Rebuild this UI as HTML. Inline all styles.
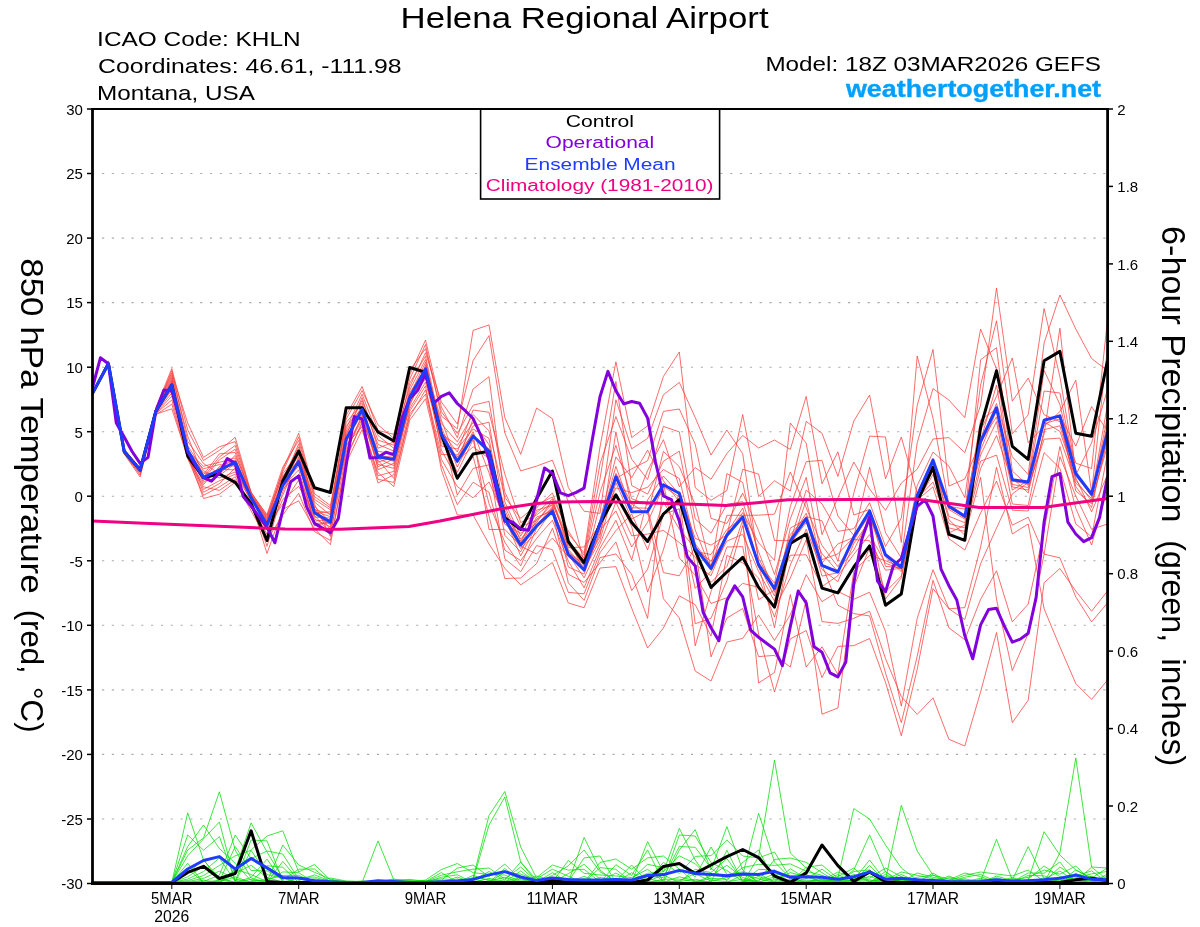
<!DOCTYPE html>
<html lang="en"><head><meta charset="utf-8"><title>Helena Regional Airport - GEFS 850 hPa Temperature</title>
<style>html,body{margin:0;padding:0;background:#fff}svg{display:block;will-change:transform}text{font-family:"Liberation Sans",sans-serif}</style>
</head><body>
<svg width="1200" height="927" viewBox="0 0 1200 927" font-family="'Liberation Sans', sans-serif">
<defs><clipPath id="pc"><rect x="92.5" y="109.0" width="1015.0" height="774.5"/></clipPath></defs>
<line x1="102.0" x2="1106.5" y1="819" y2="819" stroke="#AAAAAA" stroke-width="1.1" stroke-dasharray="2.15 7.666"/>
<line x1="102.0" x2="1106.5" y1="754.4" y2="754.4" stroke="#AAAAAA" stroke-width="1.1" stroke-dasharray="2.15 7.666"/>
<line x1="102.0" x2="1106.5" y1="689.9" y2="689.9" stroke="#AAAAAA" stroke-width="1.1" stroke-dasharray="2.15 7.666"/>
<line x1="102.0" x2="1106.5" y1="625.3" y2="625.3" stroke="#AAAAAA" stroke-width="1.1" stroke-dasharray="2.15 7.666"/>
<line x1="102.0" x2="1106.5" y1="560.8" y2="560.8" stroke="#AAAAAA" stroke-width="1.1" stroke-dasharray="2.15 7.666"/>
<line x1="102.0" x2="1106.5" y1="496.2" y2="496.2" stroke="#AAAAAA" stroke-width="1.1" stroke-dasharray="2.15 7.666"/>
<line x1="102.0" x2="1106.5" y1="431.7" y2="431.7" stroke="#AAAAAA" stroke-width="1.1" stroke-dasharray="2.15 7.666"/>
<line x1="102.0" x2="1106.5" y1="367.2" y2="367.2" stroke="#AAAAAA" stroke-width="1.1" stroke-dasharray="2.15 7.666"/>
<line x1="102.0" x2="1106.5" y1="302.6" y2="302.6" stroke="#AAAAAA" stroke-width="1.1" stroke-dasharray="2.15 7.666"/>
<line x1="102.0" x2="1106.5" y1="238.1" y2="238.1" stroke="#AAAAAA" stroke-width="1.1" stroke-dasharray="2.15 7.666"/>
<line x1="102.0" x2="1106.5" y1="173.5" y2="173.5" stroke="#AAAAAA" stroke-width="1.1" stroke-dasharray="2.15 7.666"/>
<g clip-path="url(#pc)">
<polyline points="92.5,393.4 108.4,363.5 124.2,450.9 140.1,468.6 155.9,408.7 171.8,374.6 187.7,436 203.5,477.1 219.4,456.9 235.2,445.5 251.1,493.7 267,518.8 282.8,484.4 298.7,466 314.5,514.1 330.4,524.6 346.2,447 362.1,417.1 378,466.8 393.8,458.7 409.7,400.4 425.5,373.4 441.4,426.9 457.3,467.1 473.1,435.4 489,449.1 504.8,535.3 520.7,551.9 536.6,519 552.4,508.9 568.3,549.4 584.1,567.5 600,520.3 615.9,456.9 631.7,477.6 647.6,450.1 663.4,480.8 679.3,501.8 695.2,551.5 711,554.5 726.9,529.4 742.7,517.6 758.6,565.4 774.5,596 790.3,538.7 806.2,513.2 822,563.2 837.9,543.9 853.8,537.5 869.6,513.6 885.5,566.4 901.3,567.8 917.2,496.1 933,464.2 948.9,519.6 964.8,535.2 980.6,477.3 996.5,599.3 1012.3,670.5 1028.2,633.7 1044.1,554.2 1059.9,456.6 1075.8,496 1091.6,529.3 1107.5,524" fill="none" stroke="#FA3C3C" stroke-width="0.75" stroke-linejoin="round" />
<polyline points="92.5,393.4 108.4,364.3 124.2,452.3 140.1,469.6 155.9,411.1 171.8,382.2 187.7,450.7 203.5,466.2 219.4,462.3 235.2,457.9 251.1,496.3 267,523 282.8,488.7 298.7,474.6 314.5,519 330.4,526.9 346.2,433.6 362.1,405.5 378,469.6 393.8,463.3 409.7,406.2 425.5,364.9 441.4,439.6 457.3,459.1 473.1,431.7 489,472.7 504.8,524.4 520.7,533.2 536.6,523.7 552.4,510.6 568.3,550.9 584.1,568.7 600,503.9 615.9,494.5 631.7,526.5 647.6,592.1 663.4,549.9 679.3,491.7 695.2,538.3 711,545.2 726.9,534.8 742.7,469.3 758.6,474.1 774.5,540.5 790.3,540.7 806.2,490.1 822,503.9 837.9,531.4 853.8,528.7 869.6,502.7 885.5,546.5 901.3,518 917.2,405.5 933,349.4 948.9,486.1 964.8,479 980.6,441.7 996.5,403.5 1012.3,456.7 1028.2,474.6 1044.1,343 1059.9,295 1075.8,329 1091.6,358.5 1107.5,370.7" fill="none" stroke="#FA3C3C" stroke-width="0.75" stroke-linejoin="round" />
<polyline points="92.5,393.4 108.4,362.8 124.2,450.1 140.1,468.2 155.9,408.2 171.8,372.7 187.7,423 203.5,457.4 219.4,446.8 235.2,441.6 251.1,493.1 267,514.4 282.8,467 298.7,440.4 314.5,499.4 330.4,509.8 346.2,419.1 362.1,390.5 378,424.9 393.8,438.3 409.7,379.3 425.5,344.5 441.4,416.1 457.3,428.8 473.1,330.4 489,324.9 504.8,417.5 520.7,454.3 536.6,408 552.4,418.7 568.3,487.5 584.1,511.2 600,513.4 615.9,399.8 631.7,448.8 647.6,438.4 663.4,394.8 679.3,382.4 695.2,417.5 711,455 726.9,430 742.7,453.7 758.6,562.4 774.5,583.3 790.3,506.5 806.2,461.7 822,460.3 837.9,516 853.8,535.4 869.6,511.1 885.5,555.3 901.3,567.2 917.2,485.6 933,452.1 948.9,466.1 964.8,497.6 980.6,385.1 996.5,320.8 1012.3,433.8 1028.2,414.9 1044.1,308.5 1059.9,376.8 1075.8,471.5 1091.6,494.7 1107.5,404.7" fill="none" stroke="#FA3C3C" stroke-width="0.75" stroke-linejoin="round" />
<polyline points="92.5,393.4 108.4,363.9 124.2,451.7 140.1,469.7 155.9,410.7 171.8,384.7 187.7,448.7 203.5,478.1 219.4,471.8 235.2,462.6 251.1,495.8 267,521.5 282.8,485.2 298.7,449.7 314.5,511.3 330.4,516.7 346.2,428.6 362.1,394.1 378,435.5 393.8,448.3 409.7,383.3 425.5,356.2 441.4,429.7 457.3,495.2 473.1,468.4 489,464.8 504.8,558.8 520.7,571.7 536.6,545.6 552.4,549.6 568.3,592.4 584.1,593.8 600,552.8 615.9,530.7 631.7,514 647.6,549.9 663.4,501.7 679.3,529.1 695.2,548.6 711,561.3 726.9,535.6 742.7,512.5 758.6,542.8 774.5,560.4 790.3,423 806.2,443.1 822,534.6 837.9,497.7 853.8,462.1 869.6,489 885.5,510.3 901.3,483.1 917.2,469.2 933,439 948.9,437.6 964.8,452.6 980.6,405.1 996.5,288 1012.3,401.2 1028.2,378 1044.1,414.7 1059.9,421.7 1075.8,473.6 1091.6,494.3 1107.5,424" fill="none" stroke="#FA3C3C" stroke-width="0.75" stroke-linejoin="round" />
<polyline points="92.5,393.4 108.4,363.7 124.2,451.6 140.1,471.2 155.9,411.7 171.8,387.6 187.7,454.4 203.5,489.4 219.4,480.7 235.2,474.3 251.1,500 267,546.3 282.8,491.6 298.7,458.6 314.5,515.5 330.4,532.8 346.2,455.8 362.1,424.1 378,479.3 393.8,482.4 409.7,414 425.5,394.2 441.4,459.3 457.3,486.6 473.1,497.8 489,481.9 504.8,518 520.7,555.9 536.6,525.6 552.4,506.7 568.3,554.1 584.1,577.8 600,544.1 615.9,502.2 631.7,535.8 647.6,534.1 663.4,530.4 679.3,542.5 695.2,556.8 711,582.4 726.9,566.5 742.7,520.3 758.6,683 774.5,672.5 790.3,594.6 806.2,667 822,646.8 837.9,674.5 853.8,571.5 869.6,555.4 885.5,560.7 901.3,567.5 917.2,496.8 933,462.7 948.9,516.3 964.8,522.7 980.6,442.5 996.5,416.8 1012.3,490.1 1028.2,480.6 1044.1,370.4 1059.9,404.4 1075.8,474 1091.6,496.7 1107.5,416" fill="none" stroke="#FA3C3C" stroke-width="0.75" stroke-linejoin="round" />
<polyline points="92.5,393.4 108.4,364.1 124.2,452.1 140.1,469.9 155.9,412.4 171.8,380.9 187.7,451.4 203.5,468.7 219.4,464.6 235.2,466.2 251.1,497.3 267,524.8 282.8,495.2 298.7,456.8 314.5,506.4 330.4,521.9 346.2,437.3 362.1,412 378,455.9 393.8,461.4 409.7,395.1 425.5,362.4 441.4,435.3 457.3,457.2 473.1,426 489,422.2 504.8,516.1 520.7,543 536.6,510.2 552.4,505.3 568.3,567 584.1,574.1 600,530.4 615.9,510.8 631.7,547 647.6,522.2 663.4,486.7 679.3,496.9 695.2,623.7 711,618.3 726.9,580.6 742.7,525.7 758.6,599.6 774.5,590 790.3,555.2 806.2,554.8 822,586.7 837.9,575.7 853.8,554.3 869.6,534.6 885.5,563.3 901.3,568.9 917.2,499.2 933,471.1 948.9,533 964.8,525.1 980.6,444.1 996.5,408 1012.3,486.9 1028.2,490 1044.1,434 1059.9,328.2 1075.8,476 1091.6,495.5 1107.5,433.5" fill="none" stroke="#FA3C3C" stroke-width="0.75" stroke-linejoin="round" />
<polyline points="92.5,393.4 108.4,364.2 124.2,453.6 140.1,473.7 155.9,411.5 171.8,378 187.7,450.4 203.5,476.1 219.4,469.4 235.2,469.8 251.1,497.7 267,524.1 282.8,477.7 298.7,446.8 314.5,504.3 330.4,536.4 346.2,442.6 362.1,410.8 378,458.6 393.8,465.6 409.7,399.1 425.5,378.9 441.4,446.1 457.3,448.9 473.1,429 489,438.4 504.8,520.8 520.7,548.6 536.6,532.5 552.4,509.8 568.3,545.8 584.1,560.3 600,492.4 615.9,445.3 631.7,498.7 647.6,504.6 663.4,492.4 679.3,517.8 695.2,588.4 711,571.3 726.9,541.1 742.7,534.3 758.6,571.5 774.5,601.2 790.3,528.1 806.2,519.4 822,576.1 837.9,572.7 853.8,541.2 869.6,511.5 885.5,556 901.3,567.3 917.2,495.7 933,460.1 948.9,507.2 964.8,518 980.6,359.8 996.5,347.7 1012.3,471.1 1028.2,485.5 1044.1,423.8 1059.9,418.8 1075.8,486.7 1091.6,507.5 1107.5,436.1" fill="none" stroke="#FA3C3C" stroke-width="0.75" stroke-linejoin="round" />
<polyline points="92.5,393.4 108.4,362.2 124.2,451.3 140.1,468.8 155.9,409.6 171.8,384.1 187.7,453 203.5,479.2 219.4,459.8 235.2,449.2 251.1,495.3 267,516.7 282.8,475.8 298.7,461.2 314.5,526 330.4,521.3 346.2,439.7 362.1,409.9 378,460.2 393.8,478.4 409.7,417 425.5,389.9 441.4,454.5 457.3,454.8 473.1,433.8 489,529.6 504.8,529.3 520.7,546.2 536.6,554 552.4,538.1 568.3,556.7 584.1,569.6 600,540.2 615.9,482.6 631.7,519.1 647.6,510.5 663.4,598.7 679.3,618 695.2,671 711,681 726.9,642 742.7,638.4 758.6,615.1 774.5,640.4 790.3,614.8 806.2,574.7 822,601.7 837.9,591.4 853.8,599.3 869.6,592.2 885.5,631.4 901.3,706.1 917.2,618.3 933,569.7 948.9,608.8 964.8,607.6 980.6,547.1 996.5,467.2 1012.3,534 1028.2,524 1044.1,608.8 1059.9,646.8 1075.8,683.6 1091.6,699.4 1107.5,680" fill="none" stroke="#FA3C3C" stroke-width="0.75" stroke-linejoin="round" />
<polyline points="92.5,393.4 108.4,363.2 124.2,449.8 140.1,469.3 155.9,409.2 171.8,376.4 187.7,445.6 203.5,470.9 219.4,478 235.2,472 251.1,497.5 267,523.6 282.8,486.6 298.7,469.8 314.5,523.4 330.4,523 346.2,452.6 362.1,415.2 378,464.3 393.8,468.3 409.7,402.1 425.5,371.4 441.4,450.1 457.3,478.9 473.1,456.5 489,516.2 504.8,578.5 520.7,578 536.6,563.5 552.4,528.3 568.3,574.3 584.1,582.4 600,562.7 615.9,541.9 631.7,590.6 647.6,569.2 663.4,514.3 679.3,508.8 695.2,645.8 711,591.6 726.9,547 742.7,546.6 758.6,634 774.5,692 790.3,638.9 806.2,630.5 822,677.6 837.9,646.4 853.8,645.6 869.6,638.5 885.5,682.4 901.3,735.8 917.2,669.3 933,588.6 948.9,608.8 964.8,619.5 980.6,563.7 996.5,528.1 1012.3,493.9 1028.2,482.4 1044.1,420.9 1059.9,415.1 1075.8,463.2 1091.6,468.5 1107.5,320" fill="none" stroke="#FA3C3C" stroke-width="0.75" stroke-linejoin="round" />
<polyline points="92.5,393.4 108.4,364.2 124.2,452.9 140.1,472.3 155.9,413.2 171.8,396.2 187.7,455.1 203.5,498.5 219.4,494.2 235.2,482.3 251.1,510.8 267,539.9 282.8,515 298.7,493.3 314.5,531.7 330.4,540.4 346.2,462.9 362.1,429.6 378,483 393.8,474.7 409.7,411.2 425.5,385.9 441.4,470 457.3,515 473.1,515 489,544 504.8,568.3 520.7,584.9 536.6,574 552.4,562.5 568.3,603 584.1,607.7 600,568 615.9,566.6 631.7,608.2 647.6,648 663.4,628 679.3,595.8 695.2,604.6 711,636.1 726.9,555.4 742.7,562.9 758.6,578 774.5,617 790.3,565 806.2,529.2 822,569.4 837.9,581.7 853.8,543.5 869.6,521 885.5,599 901.3,577.9 917.2,502 933,474.3 948.9,528 964.8,531.3 980.6,468.5 996.5,435.5 1012.3,481.1 1028.2,484.1 1044.1,420.3 1059.9,417 1075.8,491 1091.6,503.8 1107.5,440.1" fill="none" stroke="#FA3C3C" stroke-width="0.75" stroke-linejoin="round" />
<polyline points="92.5,393.4 108.4,363.8 124.2,450.4 140.1,468.4 155.9,410.4 171.8,383.2 187.7,451.9 203.5,474.7 219.4,453.8 235.2,452.5 251.1,497 267,524.5 282.8,479.4 298.7,460.1 314.5,512.2 330.4,520.4 346.2,449.6 362.1,419.3 378,462.1 393.8,457.4 409.7,398.1 425.5,369.8 441.4,423.7 457.3,441.8 473.1,414.5 489,430.9 504.8,497.2 520.7,518.4 536.6,504.9 552.4,497 568.3,531 584.1,555.5 600,463.8 615.9,416.6 631.7,459.2 647.6,479.5 663.4,426.4 679.3,431.9 695.2,518.9 711,533.2 726.9,504.3 742.7,501.6 758.6,551.9 774.5,592.3 790.3,541.7 806.2,518.2 822,566.2 837.9,570 853.8,550.1 869.6,517.9 885.5,557.1 901.3,571.6 917.2,495.8 933,466.1 948.9,508.1 964.8,516.6 980.6,455 996.5,421.7 1012.3,504 1028.2,505.5 1044.1,429.7 1059.9,425.8 1075.8,480.1 1091.6,500.8 1107.5,445.9" fill="none" stroke="#FA3C3C" stroke-width="0.75" stroke-linejoin="round" />
<polyline points="92.5,393.4 108.4,363.7 124.2,451.1 140.1,469.8 155.9,412 171.8,390 187.7,455.9 203.5,492.2 219.4,483.7 235.2,467.9 251.1,502.1 267,553.5 282.8,509.3 298.7,500.8 314.5,528.8 330.4,544.7 346.2,459.2 362.1,421.6 378,475.8 393.8,471.4 409.7,404 425.5,376 441.4,442.6 457.3,460.5 473.1,446.8 489,458.4 504.8,506.3 520.7,541.1 536.6,512.7 552.4,498.9 568.3,547.7 584.1,547 600,524.4 615.9,466.3 631.7,510.6 647.6,470.6 663.4,439.7 679.3,486.8 695.2,467.5 711,479.3 726.9,453.5 742.7,435.5 758.6,448 774.5,440 790.3,449.4 806.2,396.4 822,483.8 837.9,451.8 853.8,515 869.6,509.4 885.5,553.3 901.3,565.4 917.2,495.6 933,461.6 948.9,509.5 964.8,519.1 980.6,450.2 996.5,410.4 1012.3,479.9 1028.2,482.1 1044.1,391 1059.9,393 1075.8,474.8 1091.6,442.9 1107.5,389.7" fill="none" stroke="#FA3C3C" stroke-width="0.75" stroke-linejoin="round" />
<polyline points="92.5,393.4 108.4,363.9 124.2,450.7 140.1,469.5 155.9,411.3 171.8,385.9 187.7,451 203.5,472.9 219.4,475.6 235.2,463.5 251.1,496.6 267,520.7 282.8,473.8 298.7,452.3 314.5,502 330.4,515.2 346.2,431.3 362.1,400.5 378,440.2 393.8,445.2 409.7,370.3 425.5,348.7 441.4,411.7 457.3,433.4 473.1,405.2 489,401.4 504.8,492 520.7,526.4 536.6,520.8 552.4,503.9 568.3,541.5 584.1,558 600,478.9 615.9,381.5 631.7,485.5 647.6,494.1 663.4,461.3 679.3,451.1 695.2,530 711,569.1 726.9,515.3 742.7,515.3 758.6,515.2 774.5,514.1 790.3,472 806.2,507.8 822,545.5 837.9,566.7 853.8,539.5 869.6,540.7 885.5,570.2 901.3,568.3 917.2,498.5 933,482.1 948.9,523.5 964.8,528 980.6,461.1 996.5,455.1 1012.3,510.2 1028.2,511 1044.1,452.6 1059.9,468.3 1075.8,524 1091.6,536.7 1107.5,453.5" fill="none" stroke="#FA3C3C" stroke-width="0.75" stroke-linejoin="round" />
<polyline points="92.5,393.4 108.4,360.9 124.2,449 140.1,468 155.9,407.6 171.8,368.5 187.7,429.9 203.5,460.5 219.4,450.4 235.2,437.3 251.1,492.5 267,515.6 282.8,471.7 298.7,436.9 314.5,496.6 330.4,507.8 346.2,425.7 362.1,408.8 378,454 393.8,460 409.7,408.6 425.5,382.2 441.4,437.1 457.3,472.4 473.1,439.7 489,503.7 504.8,542.2 520.7,565.9 536.6,528.1 552.4,507.9 568.3,553.3 584.1,564.3 600,525.9 615.9,487.9 631.7,492.6 647.6,487.3 663.4,469.5 679.3,478.5 695.2,543.8 711,565.6 726.9,533 742.7,508 758.6,564.4 774.5,627.7 790.3,543.8 806.2,522.6 822,553.7 837.9,571.6 853.8,538.2 869.6,515.5 885.5,555 901.3,569.6 917.2,495.9 933,460.8 948.9,506.6 964.8,516.4 980.6,440.7 996.5,385.1 1012.3,478.1 1028.2,493 1044.1,422 1059.9,431.3 1075.8,477.8 1091.6,511.8 1107.5,474.8" fill="none" stroke="#FA3C3C" stroke-width="0.75" stroke-linejoin="round" />
<polyline points="92.5,393.4 108.4,361.6 124.2,449.4 140.1,469 155.9,410 171.8,370.6 187.7,441.3 203.5,463.5 219.4,473.5 235.2,461.5 251.1,498.5 267,526.6 282.8,504.1 298.7,480.1 314.5,521.1 330.4,519.3 346.2,444.6 362.1,426.8 378,472.6 393.8,486.6 409.7,420.2 425.5,398.8 441.4,464.5 457.3,504.7 473.1,482.2 489,492.2 504.8,550.1 520.7,560.6 536.6,538.4 552.4,520.2 568.3,561 584.1,587.8 600,548.3 615.9,520.3 631.7,559.9 647.6,499.9 663.4,476 679.3,494.1 695.2,564.6 711,575.7 726.9,537.4 742.7,516.7 758.6,567.4 774.5,588.9 790.3,548.2 806.2,500.2 822,565 837.9,605.2 853.8,613.6 869.6,615.9 885.5,672.9 901.3,722.7 917.2,656.3 933,580.3 948.9,627.8 964.8,639.7 980.6,599.3 996.5,570.8 1012.3,621.9 1028.2,604.1 1044.1,530.5 1059.9,446.5 1075.8,508.4 1091.6,545 1107.5,488.8" fill="none" stroke="#FA3C3C" stroke-width="0.75" stroke-linejoin="round" />
<polyline points="92.5,393.4 108.4,364.5 124.2,454 140.1,477 155.9,414.2 171.8,408.8 187.7,457.7 203.5,486.8 219.4,490.4 235.2,479.5 251.1,504.6 267,534.4 282.8,499.4 298.7,486.4 314.5,513.2 330.4,511.7 346.2,435.6 362.1,397.5 378,448.2 393.8,441.9 409.7,386.9 425.5,352.7 441.4,402 457.3,424 473.1,360.5 489,335.6 504.8,432.9 520.7,470.9 536.6,466.1 552.4,460.2 568.3,501.7 584.1,562.4 600,527.9 615.9,473.3 631.7,503.8 647.6,514.4 663.4,451.4 679.3,466.6 695.2,504.8 711,567.9 726.9,473.6 742.7,482.4 758.6,558.4 774.5,587.6 790.3,534.6 806.2,516.6 822,520.8 837.9,561.4 853.8,493.2 869.6,436.1 885.5,437 901.3,542.5 917.2,356 933,418.2 948.9,504.8 964.8,515 980.6,420.2 996.5,408.8 1012.3,484.4 1028.2,487.5 1044.1,439.2 1059.9,438.1 1075.8,483.1 1091.6,498.5 1107.5,432.3" fill="none" stroke="#FA3C3C" stroke-width="0.75" stroke-linejoin="round" />
<polyline points="92.5,393.4 108.4,364 124.2,452.6 140.1,470.4 155.9,413.6 171.8,400 187.7,456.8 203.5,484.5 219.4,466.6 235.2,460 251.1,494.3 267,519.8 282.8,469.4 298.7,433.2 314.5,493.7 330.4,505.6 346.2,422.5 362.1,403.2 378,444.4 393.8,451.1 409.7,392.9 425.5,368.4 441.4,420.1 457.3,463.1 473.1,418.7 489,453.6 504.8,510.1 520.7,544.3 536.6,517.1 552.4,511.1 568.3,582.8 584.1,600.4 600,557.6 615.9,553.9 631.7,574.5 647.6,618.4 663.4,483.7 679.3,558 695.2,575.1 711,603.5 726.9,597.7 742.7,583.4 758.6,587.3 774.5,608.2 790.3,578.1 806.2,539.8 822,621.6 837.9,623.4 853.8,618.3 869.6,611.2 885.5,658.6 901.3,696.6 917.2,714.4 933,697.8 948.9,739.3 964.8,746 980.6,691.9 996.5,632.5 1012.3,722.7 1028.2,700.2 1044.1,582.7 1059.9,568.5 1075.8,591 1091.6,611.2 1107.5,591" fill="none" stroke="#FA3C3C" stroke-width="0.75" stroke-linejoin="round" />
<polyline points="92.5,393.4 108.4,364 124.2,451.9 140.1,469.2 155.9,410.9 171.8,379.6 187.7,453.7 203.5,480.6 219.4,468.2 235.2,464.7 251.1,494.8 267,522.3 282.8,480.9 298.7,463.1 314.5,517.1 330.4,518.1 346.2,440.9 362.1,413.5 378,457.5 393.8,455.7 409.7,396.8 425.5,366.9 441.4,431.9 457.3,452 473.1,410 489,412.3 504.8,474 520.7,522.5 536.6,515 552.4,502.3 568.3,543.7 584.1,566 600,536.6 615.9,431.8 631.7,507.8 647.6,508.2 663.4,572.6 679.3,575.8 695.2,546.9 711,656.9 726.9,618.1 742.7,608.5 758.6,656.6 774.5,655.4 790.3,667 806.2,599.8 822,714.2 837.9,708 853.8,587 869.6,547.6 885.5,591.8 901.3,576 917.2,500 933,486.8 948.9,538.7 964.8,550 980.6,513 996.5,481 1012.3,525.2 1028.2,517.2 1044.1,554.2 1059.9,557.8 1075.8,596.9 1091.6,621.9 1107.5,602.9" fill="none" stroke="#FA3C3C" stroke-width="0.75" stroke-linejoin="round" />
<polyline points="92.5,393.4 108.4,363.8 124.2,451.4 140.1,470 155.9,412.7 171.8,392.9 187.7,452.4 203.5,482.4 219.4,470.6 235.2,455.4 251.1,491.8 267,517.8 282.8,483.5 298.7,454.7 314.5,508.3 330.4,529.6 346.2,438.5 362.1,407.4 378,451.4 393.8,453.6 409.7,390.1 425.5,359.5 441.4,433.6 457.3,445.5 473.1,422.5 489,444.6 504.8,513.4 520.7,538.9 536.6,522.4 552.4,500.7 568.3,539.1 584.1,571.4 600,533.3 615.9,478.6 631.7,468.8 647.6,460.8 663.4,411.4 679.3,409 695.2,444.1 711,518.3 726.9,523.5 742.7,493.1 758.6,530.6 774.5,574.5 790.3,518.8 806.2,477.3 822,559.6 837.9,553.9 853.8,537.1 869.6,467.2 885.5,532.6 901.3,557.9 917.2,442.8 933,388.6 948.9,400 964.8,417.6 980.6,329 996.5,369 1012.3,480.3 1028.2,483 1044.1,419.2 1059.9,416.1 1075.8,446.1 1091.6,406.6 1107.5,431.4" fill="none" stroke="#FA3C3C" stroke-width="0.75" stroke-linejoin="round" />
<polyline points="92.5,393.4 108.4,364.4 124.2,453.2 140.1,475.2 155.9,414.7 171.8,404.2 187.7,458.6 203.5,495.3 219.4,486.9 235.2,476.8 251.1,507.5 267,529.9 282.8,482.3 298.7,443.7 314.5,509.9 330.4,513.5 346.2,415.4 362.1,386.5 378,430.4 393.8,434.4 409.7,375 425.5,340 441.4,407 457.3,437.7 473.1,389 489,376.7 504.8,501.9 520.7,536.2 536.6,507.6 552.4,493 568.3,533.8 584.1,552.8 600,447 615.9,361.8 631.7,437.6 647.6,425.8 663.4,376.5 679.3,352 695.2,487.7 711,500.3 726.9,490.5 742.7,414.5 758.6,496.5 774.5,480.7 790.3,491 806.2,421.4 822,433.3 837.9,476.4 853.8,421 869.6,395 885.5,478.8 901.3,437 917.2,493.7 933,458.5 948.9,506.3 964.8,509.2 980.6,430.8 996.5,396.4 1012.3,358 1028.2,442.7 1044.1,426.3 1059.9,411.6 1075.8,380.2 1091.6,492.4 1107.5,347.6" fill="none" stroke="#FA3C3C" stroke-width="0.75" stroke-linejoin="round" />
<polyline points="92.5,882.5 108.4,882.5 124.2,882.5 140.1,882.5 155.9,882.5 171.8,882.5 187.7,882.4 203.5,881.4 219.4,875.2 235.2,835 251.1,858.6 267,851 282.8,854.1 298.7,879.2 314.5,879.9 330.4,882.5 346.2,882.5 362.1,882.5 378,882.4 393.8,881.8 409.7,880.8 425.5,882.5 441.4,882.5 457.3,882.5 473.1,875.4 489,880.8 504.8,877.3 520.7,882.5 536.6,882.5 552.4,882.5 568.3,879.8 584.1,880.2 600,882.5 615.9,882.4 631.7,882.2 647.6,882.5 663.4,882.4 679.3,882.1 695.2,869.4 711,872.5 726.9,858.6 742.7,880.6 758.6,880.2 774.5,873.9 790.3,875.6 806.2,874.4 822,882.5 837.9,882.5 853.8,882.2 869.6,873.4 885.5,882.2 901.3,880.5 917.2,878.7 933,882.5 948.9,882.5 964.8,881.8 980.6,879.5 996.5,882.5 1012.3,882 1028.2,882.5 1044.1,882.5 1059.9,882.5 1075.8,882.5 1091.6,882.5 1107.5,880.7" fill="none" stroke="#00DC00" stroke-width="0.75" stroke-linejoin="round" />
<polyline points="92.5,882.5 108.4,882.5 124.2,882.5 140.1,882.5 155.9,882.5 171.8,882.5 187.7,882.5 203.5,880.2 219.4,882.5 235.2,882.5 251.1,882.5 267,882.2 282.8,882.4 298.7,877.6 314.5,877 330.4,882 346.2,881.9 362.1,882.4 378,882.1 393.8,879 409.7,881.9 425.5,881.1 441.4,878.8 457.3,880.2 473.1,879.2 489,882.5 504.8,882.4 520.7,882.3 536.6,878.9 552.4,869.2 568.3,876.3 584.1,882.4 600,867.6 615.9,869.3 631.7,882.5 647.6,882.2 663.4,882.5 679.3,882.4 695.2,882.5 711,882.2 726.9,882.2 742.7,882 758.6,869.3 774.5,870.2 790.3,882.5 806.2,882.5 822,882.5 837.9,876.6 853.8,868 869.6,881.6 885.5,878.4 901.3,881.2 917.2,882.1 933,881.8 948.9,882.2 964.8,882.5 980.6,882.5 996.5,881.9 1012.3,877.6 1028.2,882.5 1044.1,877.8 1059.9,878.6 1075.8,880.5 1091.6,882.2 1107.5,878.4" fill="none" stroke="#00DC00" stroke-width="0.75" stroke-linejoin="round" />
<polyline points="92.5,882.5 108.4,882.5 124.2,882.5 140.1,882.5 155.9,882.5 171.8,882.5 187.7,876.8 203.5,866.3 219.4,878.1 235.2,882.4 251.1,882.2 267,882.4 282.8,882.5 298.7,882.2 314.5,882.4 330.4,878 346.2,881 362.1,881.7 378,881.4 393.8,882.1 409.7,881.7 425.5,882.5 441.4,882.5 457.3,882.1 473.1,880.4 489,871.5 504.8,880.3 520.7,862 536.6,882.2 552.4,872.7 568.3,882.3 584.1,876.4 600,882.4 615.9,882.3 631.7,879.2 647.6,864.3 663.4,867.6 679.3,863.3 695.2,876.9 711,847 726.9,874.5 742.7,871.8 758.6,882.2 774.5,876.7 790.3,882.4 806.2,882.3 822,877.6 837.9,882.4 853.8,874.4 869.6,882.1 885.5,874.4 901.3,882.1 917.2,873 933,877.2 948.9,880.7 964.8,875.3 980.6,872 996.5,874 1012.3,876 1028.2,870 1044.1,881.3 1059.9,867 1075.8,877.8 1091.6,873.9 1107.5,871.4" fill="none" stroke="#00DC00" stroke-width="0.75" stroke-linejoin="round" />
<polyline points="92.5,882.5 108.4,882.5 124.2,882.5 140.1,882.5 155.9,882.5 171.8,882.5 187.7,855.8 203.5,838.9 219.4,822 235.2,882.1 251.1,879.4 267,882.5 282.8,882.5 298.7,881.2 314.5,882.5 330.4,882.5 346.2,882.5 362.1,882.1 378,881.9 393.8,881.1 409.7,882.4 425.5,882.4 441.4,880.9 457.3,881.8 473.1,882.4 489,878.4 504.8,881.2 520.7,882.5 536.6,880.7 552.4,879.2 568.3,882.5 584.1,882.5 600,862.4 615.9,859 631.7,869.2 647.6,857.9 663.4,856 679.3,869.1 695.2,882.4 711,875.8 726.9,865.3 742.7,877.5 758.6,882.5 774.5,882.5 790.3,881.5 806.2,882.1 822,879.2 837.9,882.1 853.8,871.5 869.6,869.9 885.5,882.4 901.3,882.5 917.2,881.4 933,882.5 948.9,876 964.8,882.4 980.6,881.2 996.5,879.1 1012.3,882.5 1028.2,875.5 1044.1,875.8 1059.9,882.3 1075.8,882.4 1091.6,882.5 1107.5,882.5" fill="none" stroke="#00DC00" stroke-width="0.75" stroke-linejoin="round" />
<polyline points="92.5,882.5 108.4,882.5 124.2,882.5 140.1,882.5 155.9,882.5 171.8,882.5 187.7,880.6 203.5,875.6 219.4,865.4 235.2,855.8 251.1,850.3 267,874.6 282.8,878 298.7,882.5 314.5,881.5 330.4,881.6 346.2,882.3 362.1,882.3 378,882.5 393.8,882.4 409.7,882.5 425.5,881.8 441.4,875.2 457.3,871.8 473.1,869.2 489,868 504.8,879 520.7,867 536.6,881.7 552.4,882.5 568.3,882.1 584.1,881.9 600,882.5 615.9,864.7 631.7,875.4 647.6,850 663.4,882.5 679.3,880.6 695.2,873.7 711,881.1 726.9,877.4 742.7,875 758.6,878.6 774.5,882.4 790.3,880.7 806.2,881.7 822,882.2 837.9,882.5 853.8,882.4 869.6,882.4 885.5,871.5 901.3,882.4 917.2,877.2 933,875.3 948.9,878.9 964.8,881.4 980.6,878.3 996.5,882.5 1012.3,878.9 1028.2,881.6 1044.1,881.8 1059.9,881 1075.8,882.5 1091.6,882.5 1107.5,882.5" fill="none" stroke="#00DC00" stroke-width="0.75" stroke-linejoin="round" />
<polyline points="92.5,882.5 108.4,882.5 124.2,882.5 140.1,882.5 155.9,882.5 171.8,882.5 187.7,881.6 203.5,878.4 219.4,871.1 235.2,879.1 251.1,881.7 267,879.5 282.8,875.4 298.7,875.4 314.5,882.5 330.4,882.5 346.2,882.5 362.1,881.9 378,882.5 393.8,880.5 409.7,879.5 425.5,881.5 441.4,872.6 457.3,882.5 473.1,881.8 489,882.5 504.8,872.1 520.7,874.2 536.6,879.9 552.4,881.8 568.3,882.4 584.1,881.2 600,882.3 615.9,878.1 631.7,882.5 647.6,881.2 663.4,875 679.3,882.5 695.2,882.5 711,882.5 726.9,882.4 742.7,882.5 758.6,882.4 774.5,882.5 790.3,882 806.2,882.5 822,882.5 837.9,881.7 853.8,882.5 869.6,882.3 885.5,876.6 901.3,878.3 917.2,882.5 933,873 948.9,882.4 964.8,877.2 980.6,874.5 996.5,881.5 1012.3,881.3 1028.2,882.5 1044.1,882.4 1059.9,880 1075.8,882.2 1091.6,879.6 1107.5,876.6" fill="none" stroke="#00DC00" stroke-width="0.75" stroke-linejoin="round" />
<polyline points="92.5,882.5 108.4,882.5 124.2,882.5 140.1,882.5 155.9,882.5 171.8,882.5 187.7,882.5 203.5,882.5 219.4,880.1 235.2,882.5 251.1,877.4 267,859.1 282.8,881.8 298.7,882.5 314.5,882.2 330.4,882.4 346.2,881.7 362.1,882.2 378,882.2 393.8,882.5 409.7,882.3 425.5,882.5 441.4,877.2 457.3,874.8 473.1,882.5 489,881.5 504.8,882.5 520.7,878.6 536.6,882.5 552.4,875.4 568.3,865.8 584.1,850 600,871.8 615.9,880.8 631.7,865 647.6,882.4 663.4,882 679.3,881.6 695.2,879.2 711,882.5 726.9,882.5 742.7,882.5 758.6,876.4 774.5,881.3 790.3,879.5 806.2,881.1 822,881.2 837.9,874.5 853.8,882.5 869.6,882.5 885.5,882.5 901.3,882.5 917.2,882.5 933,882.5 948.9,882.5 964.8,882.3 980.6,882.4 996.5,882.5 1012.3,882.4 1028.2,879 1044.1,866 1059.9,876.7 1075.8,879.4 1091.6,876.3 1107.5,882.2" fill="none" stroke="#00DC00" stroke-width="0.75" stroke-linejoin="round" />
<polyline points="92.5,882.5 108.4,882.5 124.2,882.5 140.1,882.5 155.9,882.5 171.8,882.5 187.7,869.1 203.5,882.1 219.4,881.3 235.2,846.5 251.1,870.5 267,870.8 282.8,879.8 298.7,869.2 314.5,869 330.4,882.2 346.2,882.4 362.1,881 378,882.3 393.8,882.5 409.7,882.5 425.5,882 441.4,882.3 457.3,878.9 473.1,882.5 489,882.2 504.8,882.5 520.7,882.5 536.6,882.5 552.4,881.2 568.3,878.3 584.1,882.2 600,880.6 615.9,881.6 631.7,881.2 647.6,876.4 663.4,877.5 679.3,846.5 695.2,847.3 711,868.1 726.9,880.8 742.7,862.4 758.6,850 774.5,880.3 790.3,872.6 806.2,876.8 822,881.8 837.9,882.3 853.8,882.5 869.6,876.1 885.5,882.5 901.3,879.5 917.2,882.5 933,882.4 948.9,877.6 964.8,879.8 980.6,882.5 996.5,882.4 1012.3,882.5 1028.2,882 1044.1,882.5 1059.9,882.1 1075.8,881.8 1091.6,882.4 1107.5,881.9" fill="none" stroke="#00DC00" stroke-width="0.75" stroke-linejoin="round" />
<polyline points="92.5,882.5 108.4,882.5 124.2,882.5 140.1,882.5 155.9,882.5 171.8,882.5 187.7,879.1 203.5,871.6 219.4,858 235.2,881.6 251.1,840 267,840.9 282.8,881 298.7,882.4 314.5,878.7 330.4,882.5 346.2,882.5 362.1,882.4 378,882.5 393.8,882.5 409.7,882.1 425.5,882.2 441.4,880 457.3,868.1 473.1,865 489,876.6 504.8,864 520.7,880 536.6,877.6 552.4,865 568.3,870.1 584.1,869.3 600,882 615.9,882.5 631.7,880.4 647.6,873.3 663.4,871.8 679.3,855.8 695.2,863.7 711,879.9 726.9,881.7 742.7,879.3 758.6,881.9 774.5,878.8 790.3,882.5 806.2,867.3 822,865 837.9,878.3 853.8,881.5 869.6,865.4 885.5,881.9 901.3,882.3 917.2,880.7 933,882.3 948.9,882.4 964.8,882.5 980.6,880.5 996.5,880.1 1012.3,879.9 1028.2,877.4 1044.1,870 1059.9,874.2 1075.8,866 1091.6,881.4 1107.5,882.4" fill="none" stroke="#00DC00" stroke-width="0.75" stroke-linejoin="round" />
<polyline points="92.5,882.5 108.4,882.5 124.2,882.5 140.1,882.5 155.9,882.5 171.8,882.5 187.7,863.3 203.5,882.5 219.4,882.5 235.2,869.1 251.1,874.5 267,881.7 282.8,845 298.7,865 314.5,872.3 330.4,879.1 346.2,882.1 362.1,882.5 378,882.5 393.8,881.5 409.7,882.5 425.5,882.5 441.4,882.4 457.3,877.1 473.1,882.5 489,882.4 504.8,882.1 520.7,871 536.6,882.4 552.4,882.2 568.3,860.5 584.1,873.3 600,875 615.9,875.9 631.7,877.6 647.6,869.3 663.4,881.5 679.3,882.5 695.2,882.1 711,878.2 726.9,879.4 742.7,867.6 758.6,864.3 774.5,865.4 790.3,863.9 806.2,871.2 822,875.4 837.9,881.2 853.8,880.8 869.6,880.9 885.5,879.8 901.3,872 917.2,875.3 933,878.7 948.9,881.7 964.8,882.1 980.6,882.1 996.5,882.2 1012.3,882.2 1028.2,882.3 1044.1,882.5 1059.9,882.5 1075.8,873.2 1091.6,881.9 1107.5,874.2" fill="none" stroke="#00DC00" stroke-width="0.75" stroke-linejoin="round" />
<polyline points="92.5,882.5 108.4,882.5 124.2,882.5 140.1,882.5 155.9,882.5 171.8,882.5 187.7,846.5 203.5,825 219.4,848.5 235.2,863.3 251.1,880.8 267,880.9 282.8,871.9 298.7,872.7 314.5,882.5 330.4,882.3 346.2,882.5 362.1,882.5 378,882.4 393.8,882.2 409.7,881.3 425.5,882.5 441.4,882 457.3,882.4 473.1,881.2 489,881.9 504.8,882.5 520.7,882.1 536.6,876 552.4,880.4 568.3,881.6 584.1,857.9 600,856 615.9,882.5 631.7,881.8 647.6,882.5 663.4,879.3 679.3,879.1 695.2,881.6 711,881.8 726.9,850.3 742.7,882.3 758.6,881.2 774.5,859.4 790.3,858 806.2,862.4 822,872.7 837.9,882.5 853.8,879.8 869.6,860 885.5,880.8 901.3,874.5 917.2,881.8 933,879.8 948.9,882 964.8,882.5 980.6,882.5 996.5,876.1 1012.3,880.7 1028.2,881 1044.1,879.4 1059.9,871 1075.8,881.3 1091.6,867.2 1107.5,879.7" fill="none" stroke="#00DC00" stroke-width="0.75" stroke-linejoin="round" />
<polyline points="92.5,882.5 108.4,882.5 124.2,882.5 140.1,882.5 155.9,882.5 171.8,882.5 187.7,882.1 203.5,882.4 219.4,882 235.2,876.8 251.1,882.5 267,882.5 282.8,861.4 298.7,880.4 314.5,874.9 330.4,881.2 346.2,881.4 362.1,881.4 378,881 393.8,879.8 409.7,880.2 425.5,880.6 441.4,881.6 457.3,882.5 473.1,877.6 489,879.8 504.8,881.8 520.7,876.7 536.6,882.4 552.4,877.6 568.3,880.9 584.1,882.5 600,877.5 615.9,879.7 631.7,882.5 647.6,880.2 663.4,862.4 679.3,873.5 695.2,856.4 711,855.6 726.9,840 742.7,856 758.6,857.9 774.5,852 790.3,877.9 806.2,880.1 822,880.4 837.9,872 853.8,878.4 869.6,879.8 885.5,882.5 901.3,882.5 917.2,882.3 933,882.1 948.9,879.9 964.8,873 980.6,876.6 996.5,882.3 1012.3,882.5 1028.2,882.4 1044.1,882.2 1059.9,881.7 1075.8,870 1091.6,878.2 1107.5,867.8" fill="none" stroke="#00DC00" stroke-width="0.75" stroke-linejoin="round" />
<polyline points="92.5,882.5 108.4,882.5 124.2,882.5 140.1,882.5 155.9,882.5 171.8,882.5 187.7,835 203.5,850.2 219.4,836.6 235.2,880.6 251.1,882.4 267,865.7 282.8,867.3 298.7,882.5 314.5,882 330.4,880 346.2,882.4 362.1,882.5 378,882.5 393.8,882.5 409.7,882.4 425.5,882.3 441.4,882.5 457.3,881.1 473.1,882.2 489,882.5 504.8,868.5 520.7,881 536.6,881.3 552.4,882.5 568.3,882.5 584.1,878.6 600,881.5 615.9,873 631.7,882.4 647.6,878.6 663.4,882.3 679.3,876.8 695.2,880.7 711,882.4 726.9,882.5 742.7,882.4 758.6,873.3 774.5,882.3 790.3,882.3 806.2,882.5 822,882.4 837.9,879.5 853.8,881.9 869.6,882.5 885.5,881.5 901.3,881.7 917.2,879.8 933,881.4 948.9,882.5 964.8,880.7 980.6,881.7 996.5,880.9 1012.3,881.7 1028.2,873 1044.1,873.2 1059.9,862 1075.8,882.5 1091.6,880.7 1107.5,881.4" fill="none" stroke="#00DC00" stroke-width="0.75" stroke-linejoin="round" />
<polyline points="92.5,882.5 108.4,882.5 124.2,882.5 140.1,882.5 155.9,882.5 171.8,882.5 187.7,873.5 203.5,859.2 219.4,882.4 235.2,873.5 251.1,865.3 267,877.5 282.8,882.2 298.7,881.8 314.5,880.9 330.4,880.7 346.2,882.2 362.1,882.5 378,881.7 393.8,882.4 409.7,882.5 425.5,880 441.4,869.5 457.3,863.5 473.1,872.7 489,874.4 504.8,875 520.7,881.7 536.6,882 552.4,882.4 568.3,873.6 584.1,864.3 600,879.3 615.9,882 631.7,872.7 647.6,881.9 663.4,880.6 679.3,835 695.2,836 711,862.6 726.9,870.5 742.7,881.5 758.6,882.5 774.5,881.9 790.3,868.7 806.2,878.7 822,869.2 837.9,880.5 853.8,876.6 869.6,878.2 885.5,868 901.3,876.6 917.2,882.4 933,880.7 948.9,881.3 964.8,878.7 980.6,882.3 996.5,877.7 1012.3,882.4 1028.2,880.1 1044.1,880.5 1059.9,882.5 1075.8,875.8 1091.6,870.9 1107.5,882.5" fill="none" stroke="#00DC00" stroke-width="0.75" stroke-linejoin="round" />
<polyline points="92.5,882.5 171.8,882.5 187.7,812.8 203.5,860 219.4,878 235.2,882.5 1107.5,882.5" fill="none" stroke="#00DC00" stroke-width="0.75" stroke-linejoin="round" />
<polyline points="92.5,882.5 171.8,882.5 187.7,850 203.5,838 219.4,791.8 235.2,850 251.1,878 267,882.5 1107.5,882.5" fill="none" stroke="#00DC00" stroke-width="0.75" stroke-linejoin="round" />
<polyline points="92.5,882.5 219.4,882.5 235.2,870 251.1,822.9 267,852 282.8,878 298.7,882.5 1107.5,882.5" fill="none" stroke="#00DC00" stroke-width="0.75" stroke-linejoin="round" />
<polyline points="92.5,882.5 235.2,882.5 251.1,850 267,836 282.8,830.8 298.7,872 314.5,864.5 330.4,880 346.2,882.5 1107.5,882.5" fill="none" stroke="#00DC00" stroke-width="0.75" stroke-linejoin="round" />
<polyline points="92.5,882.5 362.1,882.5 378,840.9 393.8,880 409.7,882.5 1107.5,882.5" fill="none" stroke="#00DC00" stroke-width="0.75" stroke-linejoin="round" />
<polyline points="92.5,882.5 457.3,882.5 473.1,878 489,815.5 504.8,791.5 520.7,847 536.6,878 552.4,882.5 1107.5,882.5" fill="none" stroke="#00DC00" stroke-width="0.75" stroke-linejoin="round" />
<polyline points="92.5,882.5 457.3,882.5 473.1,880 489,825 504.8,797 520.7,862 536.6,880 552.4,882.5 1107.5,882.5" fill="none" stroke="#00DC00" stroke-width="0.75" stroke-linejoin="round" />
<polyline points="92.5,882.5 568.3,882.5 584.1,837.4 600,870 615.9,882.5 1107.5,882.5" fill="none" stroke="#00DC00" stroke-width="0.75" stroke-linejoin="round" />
<polyline points="92.5,882.5 631.7,882.5 647.6,841.6 663.4,872 679.3,828.4 695.2,860 711,882.5 1107.5,882.5" fill="none" stroke="#00DC00" stroke-width="0.75" stroke-linejoin="round" />
<polyline points="92.5,882.5 663.4,882.5 679.3,850 695.2,829.6 711,870 726.9,826.6 742.7,870 758.6,882.5 1107.5,882.5" fill="none" stroke="#00DC00" stroke-width="0.75" stroke-linejoin="round" />
<polyline points="92.5,882.5 726.9,882.5 742.7,875 758.6,813.3 774.5,862 790.3,878 806.2,882.5 1107.5,882.5" fill="none" stroke="#00DC00" stroke-width="0.75" stroke-linejoin="round" />
<polyline points="92.5,882.5 742.7,882.5 758.6,857 774.5,760.1 790.3,853 806.2,868 822,880 837.9,882.5 1107.5,882.5" fill="none" stroke="#00DC00" stroke-width="0.75" stroke-linejoin="round" />
<polyline points="92.5,882.5 822,882.5 837.9,878 853.8,808.6 869.6,819 885.5,845 901.3,868 917.2,880 933,882.5 1107.5,882.5" fill="none" stroke="#00DC00" stroke-width="0.75" stroke-linejoin="round" />
<polyline points="92.5,882.5 837.9,882.5 853.8,870 869.6,834.9 885.5,872 901.3,882.5 1107.5,882.5" fill="none" stroke="#00DC00" stroke-width="0.75" stroke-linejoin="round" />
<polyline points="92.5,882.5 869.6,882.5 885.5,880 901.3,805.4 917.2,851 933,875 948.9,882.5 1107.5,882.5" fill="none" stroke="#00DC00" stroke-width="0.75" stroke-linejoin="round" />
<polyline points="92.5,882.5 964.8,882.5 980.6,881 996.5,839.3 1012.3,880 1028.2,882.5 1107.5,882.5" fill="none" stroke="#00DC00" stroke-width="0.75" stroke-linejoin="round" />
<polyline points="92.5,882.5 996.5,882.5 1012.3,880 1028.2,846.6 1044.1,879 1059.9,882.5 1107.5,882.5" fill="none" stroke="#00DC00" stroke-width="0.75" stroke-linejoin="round" />
<polyline points="92.5,882.5 1012.3,882.5 1028.2,880 1044.1,831.7 1059.9,855 1075.8,870 1091.6,878 1107.5,880" fill="none" stroke="#00DC00" stroke-width="0.75" stroke-linejoin="round" />
<polyline points="92.5,882.5 1044.1,882.5 1059.9,853 1075.8,757.9 1091.6,867 1107.5,868" fill="none" stroke="#00DC00" stroke-width="0.75" stroke-linejoin="round" />
<polyline points="92.5,393.4 108.4,363.7 124.2,451.5 140.1,470 155.9,411.2 171.8,385 187.7,456 203.5,477.6 219.4,474 235.2,482.3 251.1,503.7 267,540.5 282.8,481 298.7,451 314.5,487.8 330.4,492.5 346.2,407.8 362.1,407.8 378,432 393.8,441 409.7,367.5 425.5,372.2 441.4,434.4 457.3,478.3 473.1,454 489,451.3 504.8,517.8 520.7,529.6 536.6,498.8 552.4,471 568.3,541.5 584.1,562.8 600,523.7 615.9,494.8 631.7,522.5 647.6,541.5 663.4,514 679.3,499.7 695.2,550.7 711,587.4 726.9,572 742.7,557.3 758.6,587.4 774.5,607.1 790.3,543.5 806.2,534 822,588.1 837.9,592.9 853.8,567 869.6,545.9 885.5,605.2 901.3,594 917.2,501.5 933,467.3 948.9,534.3 964.8,540.3 980.6,427.3 996.5,370.8 1012.3,446.3 1028.2,459.3 1044.1,360.8 1059.9,351.4 1075.8,433.2 1091.6,436.3 1107.5,360.8" fill="none" stroke="#000" stroke-width="3" stroke-linejoin="round" />
<polyline points="92.5,387.5 100.4,357.8 108.4,363.7 116.3,423 124.2,437 132.1,451.5 140.1,463.4 148,457.4 155.9,411 163.9,390 171.8,391 179.7,418.3 187.7,451.5 195.6,465.7 203.5,477.6 211.4,481.2 219.4,472.9 227.3,458.6 235.2,463.4 243.2,496.6 251.1,506 259,516.7 267,527.4 274.9,542.8 282.8,510 290.7,481.8 298.7,475.9 306.6,506.7 314.5,523.4 322.5,528.1 330.4,532.8 338.3,518.6 346.2,465 354.2,416.6 362.1,419 370,458.1 378,457.4 385.9,452.2 393.8,454.6 401.8,419 409.7,398.8 417.6,390.5 425.5,373.9 433.5,403.5 441.4,396.4 449.3,392.9 457.3,403.5 465.2,410.7 473.1,418.5 481.1,436 489,459.6 496.9,491.7 504.8,521.3 512.8,522 520.7,529 528.6,530.3 536.6,500 544.5,468 552.4,473.4 560.4,492.9 568.3,495.7 576.2,492.4 584.1,488.1 592.1,440.7 600,396.8 607.9,371.4 615.9,390.8 623.8,403.9 631.7,401.5 639.6,403.2 647.6,418.1 655.5,462 663.4,496 671.4,499.7 679.3,521 687.2,556.6 695.2,566.1 703.1,612.3 711,627.8 718.9,640.8 726.9,600.5 734.8,585.8 742.7,596.9 750.7,630.1 758.6,637.3 766.5,643.2 774.5,649.1 782.4,665.7 790.3,626.6 798.2,591 806.2,602.9 814.1,646.7 822,652.2 830,672.8 837.9,676.9 845.8,662 853.8,583 861.7,539.5 869.6,516.9 877.5,581 885.5,591.7 893.4,565.6 901.3,558.5 909.3,531.2 917.2,506.3 925.1,499.8 933,516 941,569.1 948.9,585.7 956.8,600 964.8,635.6 972.7,658.8 980.6,624.9 988.6,609.5 996.5,608.3 1004.4,626.1 1012.3,642.2 1020.3,639.1 1028.2,633.2 1036.1,597.6 1044.1,522 1052,476.6 1059.9,473.5 1067.9,522.2 1075.8,534 1083.7,541.6 1091.6,537.6 1099.6,517.4 1107.5,477.1" fill="none" stroke="#8200DC" stroke-width="3" stroke-linejoin="round" />
<polyline points="92.5,393.4 108.4,363.7 124.2,451.5 140.1,470 155.9,411.2 171.8,385 187.7,450.3 203.5,477.6 219.4,470 235.2,462.2 251.1,497.8 267,525 282.8,485.5 298.7,461.7 314.5,512.7 330.4,522.2 346.2,439.1 362.1,409.5 378,456.9 393.8,459.3 409.7,397.6 425.5,369.1 441.4,434.4 457.3,461.2 473.1,436.2 489,451.3 504.8,519 520.7,545 536.6,526 552.4,511.4 568.3,554.5 584.1,570 600,523.7 615.9,476.7 631.7,511.8 647.6,511.4 663.4,484.7 679.3,493.2 695.2,547.8 711,568.5 726.9,535.2 742.7,517 758.6,564.9 774.5,588.6 790.3,541.2 806.2,518.6 822,565.4 837.9,572 853.8,537 869.6,511 885.5,554.9 901.3,567.2 917.2,495.6 933,460 948.9,506.2 964.8,516.3 980.6,441.5 996.5,407.8 1012.3,479.8 1028.2,482 1044.1,420.2 1059.9,415.9 1075.8,473.5 1091.6,494.2 1107.5,432" fill="none" stroke="#1E3CFF" stroke-width="3" stroke-linejoin="round" />
<polyline points="92.5,521 150,523.5 200,525.5 285,529 340,529.3 409,526.4 440,521 475,514 500,509 536,503.5 560,502 595,501.4 631,502.3 665,503.5 700,504.5 726,505.6 760,502.5 788,499.7 855,499.5 916,499.1 950,503.5 979,507.5 1043,507.5 1075,503 1107.5,498.4" fill="none" stroke="#F00082" stroke-width="3" stroke-linejoin="round" />
<polyline points="92.5,882.5 108.4,882.5 124.2,882.5 140.1,882.5 155.9,882.5 171.8,882.5 187.7,872.4 203.5,866.3 219.4,878.5 235.2,873.5 251.1,830.8 267,881.4 282.8,882.5 298.7,882.5 314.5,882.5 330.4,882.5 346.2,882.5 362.1,882.5 378,882.5 393.8,882.5 409.7,882.5 425.5,882.5 441.4,882.5 457.3,882.5 473.1,882.5 489,882.5 504.8,882.5 520.7,882.5 536.6,882.5 552.4,880.6 568.3,882.5 584.1,882.5 600,882.5 615.9,882.5 631.7,882.5 647.6,880 663.4,866.5 679.3,863.5 695.2,873.4 711,865 726.9,856.6 742.7,849.5 758.6,857.6 774.5,876 790.3,882.4 806.2,872.9 822,845 837.9,865.6 853.8,881.4 869.6,871.9 885.5,881.7 901.3,882.5 917.2,882.5 933,882.5 948.9,882.5 964.8,882.5 980.6,882.5 996.5,882.5 1012.3,882.5 1028.2,882.5 1044.1,882.5 1059.9,882.5 1075.8,879.8 1091.6,878.2 1107.5,880.5" fill="none" stroke="#000" stroke-width="3" stroke-linejoin="round" />
<polyline points="92.5,882.5 108.4,882.5 124.2,882.5 140.1,882.5 155.9,882.5 171.8,882.5 187.7,869 203.5,860.5 219.4,856.6 235.2,869 251.1,858.4 267,867.9 282.8,877.6 298.7,878 314.5,880.7 330.4,881.8 346.2,882.5 362.1,882.5 378,880.7 393.8,881.5 409.7,882.5 425.5,882.5 441.4,881.8 457.3,880.9 473.1,879.4 489,874.9 504.8,871.6 520.7,877 536.6,880.6 552.4,877.9 568.3,879.4 584.1,880 600,880 615.9,879.4 631.7,880 647.6,875.5 663.4,874.6 679.3,870.4 695.2,873.4 711,874.6 726.9,875.8 742.7,874 758.6,874.5 774.5,871.3 790.3,877.3 806.2,876.7 822,877.3 837.9,879.2 853.8,876.7 869.6,871.9 885.5,879.2 901.3,878.2 917.2,879.8 933,880.5 948.9,881.5 964.8,881.8 980.6,881.5 996.5,879.8 1012.3,881.2 1028.2,880.8 1044.1,879.8 1059.9,878.2 1075.8,875.1 1091.6,879.2 1107.5,880.1" fill="none" stroke="#1E3CFF" stroke-width="3" stroke-linejoin="round" />
</g>
<rect x="480.6" y="109" width="239" height="90" fill="#fff" stroke="#000" stroke-width="1.6"/>
<line x1="91" x2="1109" y1="109" y2="109" stroke="#000" stroke-width="2"/>
<line x1="91" x2="1109" y1="883.5" y2="883.5" stroke="#000" stroke-width="3"/>
<line x1="92.5" x2="92.5" y1="108" y2="885" stroke="#000" stroke-width="2.8"/>
<line x1="1107.6" x2="1107.6" y1="108" y2="885" stroke="#000" stroke-width="2.8"/>
<line x1="87" x2="91.5" y1="883.5" y2="883.5" stroke="#000" stroke-width="1.5"/>
<text x="82.9" y="889.3" font-size="15" text-anchor="end" fill="#000" font-weight="normal" >-30</text>
<line x1="87" x2="91.5" y1="819" y2="819" stroke="#000" stroke-width="1.5"/>
<text x="82.9" y="824.8" font-size="15" text-anchor="end" fill="#000" font-weight="normal" >-25</text>
<line x1="87" x2="91.5" y1="754.4" y2="754.4" stroke="#000" stroke-width="1.5"/>
<text x="82.9" y="760.2" font-size="15" text-anchor="end" fill="#000" font-weight="normal" >-20</text>
<line x1="87" x2="91.5" y1="689.9" y2="689.9" stroke="#000" stroke-width="1.5"/>
<text x="82.9" y="695.7" font-size="15" text-anchor="end" fill="#000" font-weight="normal" >-15</text>
<line x1="87" x2="91.5" y1="625.3" y2="625.3" stroke="#000" stroke-width="1.5"/>
<text x="82.9" y="631.1" font-size="15" text-anchor="end" fill="#000" font-weight="normal" >-10</text>
<line x1="87" x2="91.5" y1="560.8" y2="560.8" stroke="#000" stroke-width="1.5"/>
<text x="82.9" y="566.6" font-size="15" text-anchor="end" fill="#000" font-weight="normal" >-5</text>
<line x1="87" x2="91.5" y1="496.2" y2="496.2" stroke="#000" stroke-width="1.5"/>
<text x="82.9" y="502.1" font-size="15" text-anchor="end" fill="#000" font-weight="normal" >0</text>
<line x1="87" x2="91.5" y1="431.7" y2="431.7" stroke="#000" stroke-width="1.5"/>
<text x="82.9" y="437.5" font-size="15" text-anchor="end" fill="#000" font-weight="normal" >5</text>
<line x1="87" x2="91.5" y1="367.2" y2="367.2" stroke="#000" stroke-width="1.5"/>
<text x="82.9" y="373" font-size="15" text-anchor="end" fill="#000" font-weight="normal" >10</text>
<line x1="87" x2="91.5" y1="302.6" y2="302.6" stroke="#000" stroke-width="1.5"/>
<text x="82.9" y="308.4" font-size="15" text-anchor="end" fill="#000" font-weight="normal" >15</text>
<line x1="87" x2="91.5" y1="238.1" y2="238.1" stroke="#000" stroke-width="1.5"/>
<text x="82.9" y="243.9" font-size="15" text-anchor="end" fill="#000" font-weight="normal" >20</text>
<line x1="87" x2="91.5" y1="173.5" y2="173.5" stroke="#000" stroke-width="1.5"/>
<text x="82.9" y="179.3" font-size="15" text-anchor="end" fill="#000" font-weight="normal" >25</text>
<line x1="87" x2="91.5" y1="109" y2="109" stroke="#000" stroke-width="1.5"/>
<text x="82.9" y="114.8" font-size="15" text-anchor="end" fill="#000" font-weight="normal" >30</text>
<line x1="1108.5" x2="1113" y1="883.5" y2="883.5" stroke="#000" stroke-width="1.5"/>
<text x="1117.3" y="889.1" font-size="15" text-anchor="start" fill="#000" font-weight="normal" >0</text>
<line x1="1108.5" x2="1113" y1="806" y2="806" stroke="#000" stroke-width="1.5"/>
<text x="1117.3" y="811.6" font-size="15" text-anchor="start" fill="#000" font-weight="normal" >0.2</text>
<line x1="1108.5" x2="1113" y1="728.6" y2="728.6" stroke="#000" stroke-width="1.5"/>
<text x="1117.3" y="734.2" font-size="15" text-anchor="start" fill="#000" font-weight="normal" >0.4</text>
<line x1="1108.5" x2="1113" y1="651.1" y2="651.1" stroke="#000" stroke-width="1.5"/>
<text x="1117.3" y="656.8" font-size="15" text-anchor="start" fill="#000" font-weight="normal" >0.6</text>
<line x1="1108.5" x2="1113" y1="573.7" y2="573.7" stroke="#000" stroke-width="1.5"/>
<text x="1117.3" y="579.3" font-size="15" text-anchor="start" fill="#000" font-weight="normal" >0.8</text>
<line x1="1108.5" x2="1113" y1="496.2" y2="496.2" stroke="#000" stroke-width="1.5"/>
<text x="1117.3" y="501.9" font-size="15" text-anchor="start" fill="#000" font-weight="normal" >1</text>
<line x1="1108.5" x2="1113" y1="418.8" y2="418.8" stroke="#000" stroke-width="1.5"/>
<text x="1117.3" y="424.4" font-size="15" text-anchor="start" fill="#000" font-weight="normal" >1.2</text>
<line x1="1108.5" x2="1113" y1="341.3" y2="341.3" stroke="#000" stroke-width="1.5"/>
<text x="1117.3" y="346.9" font-size="15" text-anchor="start" fill="#000" font-weight="normal" >1.4</text>
<line x1="1108.5" x2="1113" y1="263.9" y2="263.9" stroke="#000" stroke-width="1.5"/>
<text x="1117.3" y="269.5" font-size="15" text-anchor="start" fill="#000" font-weight="normal" >1.6</text>
<line x1="1108.5" x2="1113" y1="186.4" y2="186.4" stroke="#000" stroke-width="1.5"/>
<text x="1117.3" y="192" font-size="15" text-anchor="start" fill="#000" font-weight="normal" >1.8</text>
<line x1="1108.5" x2="1113" y1="109" y2="109" stroke="#000" stroke-width="1.5"/>
<text x="1117.3" y="114.6" font-size="15" text-anchor="start" fill="#000" font-weight="normal" >2</text>
<line x1="171.8" x2="171.8" y1="885" y2="889" stroke="#000" stroke-width="1"/>
<text x="171.8" y="904" font-size="16" text-anchor="middle" fill="#000" font-weight="normal" textLength="41.5" lengthAdjust="spacingAndGlyphs" >5MAR</text>
<line x1="298.7" x2="298.7" y1="885" y2="889" stroke="#000" stroke-width="1"/>
<text x="298.7" y="904" font-size="16" text-anchor="middle" fill="#000" font-weight="normal" textLength="41.5" lengthAdjust="spacingAndGlyphs" >7MAR</text>
<line x1="425.5" x2="425.5" y1="885" y2="889" stroke="#000" stroke-width="1"/>
<text x="425.5" y="904" font-size="16" text-anchor="middle" fill="#000" font-weight="normal" textLength="41.5" lengthAdjust="spacingAndGlyphs" >9MAR</text>
<line x1="552.4" x2="552.4" y1="885" y2="889" stroke="#000" stroke-width="1"/>
<text x="552.4" y="904" font-size="16" text-anchor="middle" fill="#000" font-weight="normal" textLength="52" lengthAdjust="spacingAndGlyphs" >11MAR</text>
<line x1="679.3" x2="679.3" y1="885" y2="889" stroke="#000" stroke-width="1"/>
<text x="679.3" y="904" font-size="16" text-anchor="middle" fill="#000" font-weight="normal" textLength="52" lengthAdjust="spacingAndGlyphs" >13MAR</text>
<line x1="806.2" x2="806.2" y1="885" y2="889" stroke="#000" stroke-width="1"/>
<text x="806.2" y="904" font-size="16" text-anchor="middle" fill="#000" font-weight="normal" textLength="52" lengthAdjust="spacingAndGlyphs" >15MAR</text>
<line x1="933" x2="933" y1="885" y2="889" stroke="#000" stroke-width="1"/>
<text x="933" y="904" font-size="16" text-anchor="middle" fill="#000" font-weight="normal" textLength="52" lengthAdjust="spacingAndGlyphs" >17MAR</text>
<line x1="1059.9" x2="1059.9" y1="885" y2="889" stroke="#000" stroke-width="1"/>
<text x="1059.9" y="904" font-size="16" text-anchor="middle" fill="#000" font-weight="normal" textLength="52" lengthAdjust="spacingAndGlyphs" >19MAR</text>
<text x="171.8" y="922" font-size="16" text-anchor="middle" fill="#000" font-weight="normal" textLength="35" lengthAdjust="spacingAndGlyphs" >2026</text>
<text x="400.6" y="28.3" font-size="29.3" text-anchor="start" fill="#000" font-weight="normal" textLength="368" lengthAdjust="spacingAndGlyphs" >Helena Regional Airport</text>
<text x="97.1" y="45.9" font-size="20.4" text-anchor="start" fill="#000" font-weight="normal" textLength="203.6" lengthAdjust="spacingAndGlyphs" >ICAO Code: KHLN</text>
<text x="98.1" y="72.5" font-size="20.4" text-anchor="start" fill="#000" font-weight="normal" textLength="303.5" lengthAdjust="spacingAndGlyphs" >Coordinates: 46.61, -111.98</text>
<text x="97.1" y="99.7" font-size="20.4" text-anchor="start" fill="#000" font-weight="normal" textLength="157.8" lengthAdjust="spacingAndGlyphs" >Montana, USA</text>
<text x="765.4" y="71" font-size="20" text-anchor="start" fill="#000" font-weight="normal" textLength="335.6" lengthAdjust="spacingAndGlyphs" >Model: 18Z 03MAR2026 GEFS</text>
<text x="846" y="96.7" font-size="23.8" text-anchor="start" fill="#00A0FF" font-weight="bold" textLength="255" lengthAdjust="spacingAndGlyphs" stroke="#00A0FF" stroke-width="0.35">weathertogether.net</text>
<text x="565.8" y="127.1" font-size="17.3" text-anchor="start" fill="#000" font-weight="normal" textLength="68.1" lengthAdjust="spacingAndGlyphs" >Control</text>
<text x="545.6" y="148.1" font-size="17.3" text-anchor="start" fill="#8200DC" font-weight="normal" textLength="108.6" lengthAdjust="spacingAndGlyphs" >Operational</text>
<text x="524.6" y="169.8" font-size="17.3" text-anchor="start" fill="#1E3CFF" font-weight="normal" textLength="151" lengthAdjust="spacingAndGlyphs" >Ensemble Mean</text>
<text x="485.8" y="191" font-size="17.3" text-anchor="start" fill="#F00082" font-weight="normal" textLength="227.6" lengthAdjust="spacingAndGlyphs" >Climatology (1981-2010)</text>
<g transform="translate(21,258.2) rotate(90)"><text x="0" y="0" font-size="32" text-anchor="start" fill="#000" font-weight="normal" textLength="335.5" lengthAdjust="spacingAndGlyphs" >850 hPa Temperature</text><text x="351.5" y="0" font-size="32" text-anchor="start" fill="#000" font-weight="normal" textLength="63.9" lengthAdjust="spacingAndGlyphs" >(red,</text><text x="428.9" y="0" font-size="32" text-anchor="start" fill="#000" font-weight="normal" textLength="45.5" lengthAdjust="spacingAndGlyphs" >&#176;C)</text></g>
<g transform="translate(1161.5,226) rotate(90)"><text x="0" y="0" font-size="32.6" text-anchor="start" fill="#000" font-weight="normal" textLength="296.5" lengthAdjust="spacingAndGlyphs" >6-hour Precipitation</text><text x="314.3" y="0" font-size="32.6" text-anchor="start" fill="#000" font-weight="normal" textLength="101.9" lengthAdjust="spacingAndGlyphs" >(green,</text><text x="432.3" y="0" font-size="32.6" text-anchor="start" fill="#000" font-weight="normal" textLength="108.2" lengthAdjust="spacingAndGlyphs" >inches)</text></g>
</svg>
</body></html>
